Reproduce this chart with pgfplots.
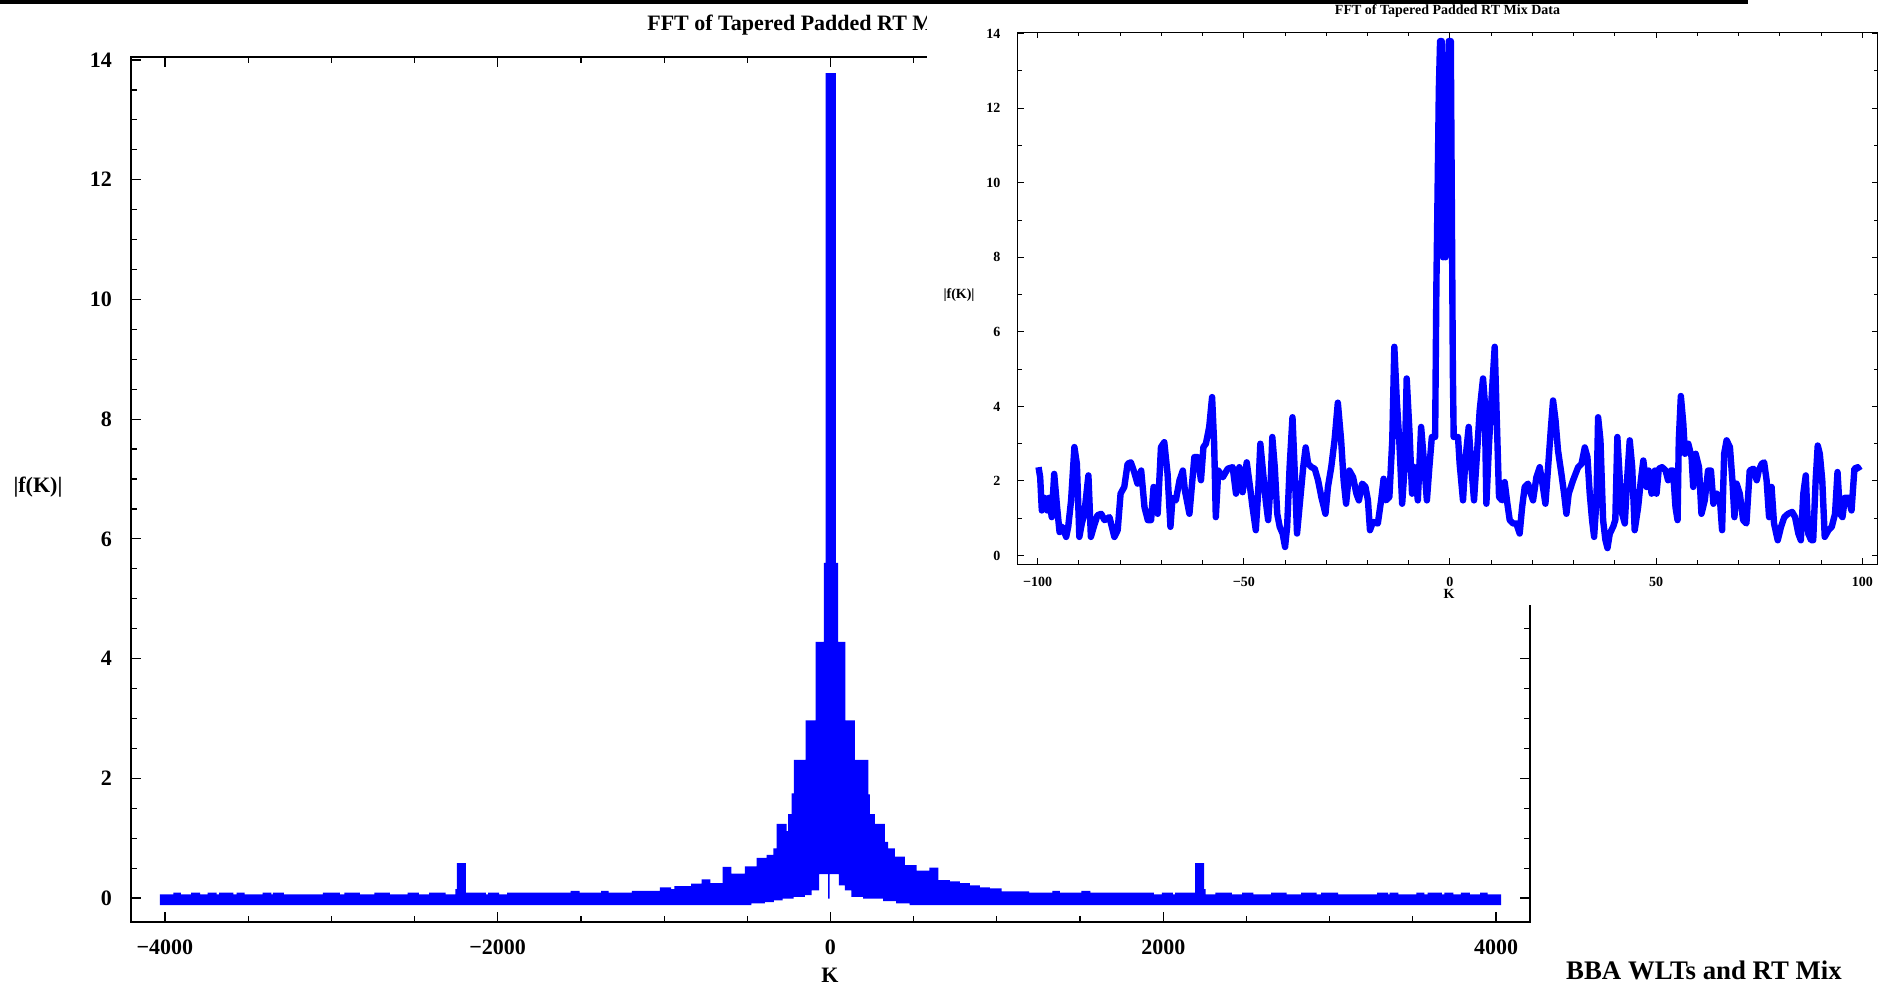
\documentclass[border=0pt]{standalone}
\usepackage{fontspec}
\setmainfont{Liberation Serif}
\usepackage{pgfplots}
\pgfplotsset{compat=1.18}
\definecolor{mblue}{RGB}{0,0,255}
\newcommand{\mainfont}{\fontsize{11}{13}\selectfont\bfseries}
\newcommand{\insfont}{\fontsize{7}{8}\selectfont\bfseries}
\begin{document}
\begin{tikzpicture}[x=1pt,y=1pt]
\useasboundingbox (0,0) rectangle (943.5,492.5);
\begin{axis}[
  at={(65.5pt,31.5pt)}, anchor=south west, scale only axis,
  width=699.5pt, height=432.5pt,
  xmin=-4204, xmax=4204, ymin=-0.40, ymax=14.05,
  axis line style={line width=1pt},
  xtick={-4000,-2000,0,2000,4000},
  xticklabels={−4000,−2000,0,2000,4000},
  minor x tick num=3,
  ytick={0,2,4,6,8,10,12,14},
  yticklabels={0,2,4,6,8,10,12,14},
  minor y tick num=3,
  tick align=inside,
  major tick length=5pt, minor tick length=3pt,
  tick style={black, line width=0.6pt},
  ticklabel style={font=\mainfont},
  xticklabel style={yshift=-5.5pt},
  yticklabel style={xshift=-6pt},
  title={FFT of Tapered Padded RT M},
  every axis title/.style={at={(0.3688,1.037)}, anchor=west, inner sep=0pt, font=\mainfont},
  xlabel={K}, ylabel={|f(K)|},
  every axis x label/.style={at={(0.4996,-0.0613)}, anchor=center, font=\mainfont},
  every axis y label/.style={at={(-0.0665,0.503)}, anchor=center, font=\mainfont},
]
\addplot[fill=mblue, draw=none] coordinates {
(-4030,-0.12)
(-4030,0.06)(-3950,0.06)
(-3950,0.09)(-3904,0.09)
(-3904,0.06)(-3842,0.06)
(-3842,0.09)(-3789,0.09)
(-3789,0.06)(-3743,0.06)
(-3743,0.09)(-3690,0.09)
(-3690,0.06)(-3674,0.06)
(-3674,0.09)(-3588,0.09)
(-3588,0.06)(-3569,0.06)
(-3569,0.09)(-3521,0.09)
(-3521,0.06)(-3413,0.06)
(-3413,0.09)(-3360,0.09)
(-3360,0.06)(-3352,0.06)
(-3352,0.09)(-3285,0.09)
(-3285,0.06)(-3051,0.06)
(-3051,0.09)(-2949,0.09)
(-2949,0.06)(-2922,0.06)
(-2922,0.09)(-2828,0.09)
(-2828,0.06)(-2742,0.06)
(-2742,0.09)(-2648,0.09)
(-2648,0.06)(-2541,0.06)
(-2541,0.09)(-2474,0.09)
(-2474,0.06)(-2412,0.06)
(-2412,0.09)(-2313,0.09)
(-2313,0.06)(-2254,0.06)
(-2254,0.15)(-2246,0.15)
(-2246,0.585)(-2192,0.585)
(-2192,0.09)(-2071,0.09)
(-2071,0.06)(-2058,0.06)
(-2058,0.09)(-1991,0.09)
(-1991,0.06)(-1943,0.06)
(-1943,0.09)(-1562,0.09)
(-1562,0.12)(-1508,0.12)
(-1508,0.09)(-1379,0.09)
(-1379,0.12)(-1334,0.12)
(-1334,0.09)(-1194,0.09)
(-1194,0.12)(-1025,0.12)
(-1025,0.18)(-958,0.18)
(-958,0.15)(-939,0.15)
(-939,0.20)(-837,0.20)
(-837,0.24)(-775,0.24)
(-775,0.31)(-722,0.31)
(-722,0.25)(-649,0.25)
(-649,0.52)(-595,0.52)
(-595,0.41)(-514,0.41)
(-514,0.53)(-444,0.53)
(-444,0.67)(-384,0.67)
(-384,0.72)(-344,0.72)
(-344,0.83)(-324,0.83)
(-324,1.24)(-264,1.24)
(-264,1.12)(-254,1.12)
(-254,1.40)(-234,1.40)
(-234,1.75)(-220,1.75)
(-220,2.31)(-150,2.31)
(-150,2.97)(-90,2.97)
(-90,4.28)(-40,4.28)
(-40,5.60)(-30,5.60)
(-30,13.78)(32,13.78)
(32,5.60)(46,5.60)
(46,4.28)(90,4.28)
(90,2.97)(146,2.97)
(146,2.31)(227,2.31)
(227,1.73)(237,1.73)
(237,1.40)(267,1.40)
(267,1.24)(327,1.24)
(327,0.94)(347,0.94)
(347,0.83)(387,0.83)
(387,0.69)(447,0.69)
(447,0.55)(518,0.55)
(518,0.46)(594,0.46)
(594,0.51)(648,0.51)
(648,0.30)(718,0.30)
(718,0.28)(778,0.28)
(778,0.25)(838,0.25)
(838,0.21)(898,0.21)
(898,0.18)(958,0.18)
(958,0.16)(1028,0.16)
(1028,0.11)(1194,0.11)
(1194,0.09)(1334,0.09)
(1334,0.12)(1379,0.12)
(1379,0.09)(1508,0.09)
(1508,0.12)(1562,0.12)
(1562,0.09)(1943,0.09)
(1943,0.06)(1991,0.06)
(1991,0.09)(2058,0.09)
(2058,0.06)(2071,0.06)
(2071,0.09)(2192,0.09)
(2192,0.585)(2246,0.585)
(2246,0.15)(2254,0.15)
(2254,0.06)(2313,0.06)
(2313,0.09)(2412,0.09)
(2412,0.06)(2474,0.06)
(2474,0.09)(2541,0.09)
(2541,0.06)(2648,0.06)
(2648,0.09)(2742,0.09)
(2742,0.06)(2828,0.06)
(2828,0.09)(2922,0.09)
(2922,0.06)(2949,0.06)
(2949,0.09)(3051,0.09)
(3051,0.06)(3285,0.06)
(3285,0.09)(3352,0.09)
(3352,0.06)(3360,0.06)
(3360,0.09)(3413,0.09)
(3413,0.06)(3521,0.06)
(3521,0.09)(3569,0.09)
(3569,0.06)(3588,0.06)
(3588,0.09)(3674,0.09)
(3674,0.06)(3690,0.06)
(3690,0.09)(3743,0.09)
(3743,0.06)(3789,0.06)
(3789,0.09)(3842,0.09)
(3842,0.06)(3904,0.06)
(3904,0.09)(3950,0.09)
(3950,0.06)(4030,0.06)
(4030,-0.12)(475,-0.12)
(475,-0.09)(395,-0.09)
(395,-0.05)(316,-0.05)
(316,-0.01)(196,-0.01)
(196,0.02)(126,0.02)
(126,0.13)(86,0.13)
(86,0.21)(50,0.21)
(50,0.40)(-5,0.40)
(-5,-0.01)(-14,-0.01)
(-14,0.40)(-68,0.40)
(-68,0.13)(-114,0.13)
(-114,0.05)(-154,0.05)
(-154,0.02)(-221,0.02)
(-221,-0.01)(-288,-0.01)
(-288,-0.04)(-341,-0.04)
(-341,-0.07)(-395,-0.07)
(-395,-0.09)(-475,-0.09)
(-475,-0.12)(-4030,-0.12)
} -- cycle;
\end{axis}
\fill[white] (463.5,190) rectangle (943.5,489.5);
\fill[black] (0,490.5) rectangle (874,492.5);
\begin{axis}[
  at={(508.75pt,210.25pt)}, anchor=south west, scale only axis,
  width=430pt, height=266pt,
  xmin=-104.9, xmax=103.7, ymin=-0.24, ymax=14.03,
  axis line style={line width=0.8pt},
  xtick={-100,-50,0,50,100},
  xticklabels={−100,−50,0,50,100},
  minor x tick num=4,
  ytick={0,2,4,6,8,10,12,14},
  yticklabels={0,2,4,6,8,10,12,14},
  minor y tick num=1,
  tick align=inside,
  major tick length=3pt, minor tick length=2pt,
  tick style={black, line width=0.5pt},
  ticklabel style={font=\insfont},
  xticklabel style={yshift=-2.7pt},
  yticklabel style={xshift=-5pt},
  title={FFT of Tapered Padded RT Mix Data},
  every axis title/.style={at={(0.5,1.0404)}, anchor=center, font=\insfont},
  xlabel={K}, ylabel={|f(K)|},
  every axis x label/.style={at={(0.5017,-0.0555)}, anchor=center, font=\insfont},
  every axis y label/.style={at={(-0.068,0.5066)}, anchor=center, font=\insfont},
]
\addplot[mblue, line width=3.2pt, line join=round] table {
x y
-99.8 2.37
-99.4 2.1
-99.0 1.21
-98.4 1.55
-97.7 1.21
-97.2 1.55
-96.6 1.03
-96.0 2.19
-95.3 1.30
-94.7 0.63
-94.0 0.77
-93.1 0.5
-92.6 0.77
-91.9 1.48
-91.1 2.91
-90.5 2.46
-89.9 0.5
-89.3 0.86
-88.7 1.12
-87.7 2.15
-87.1 0.5
-86.4 0.77
-85.5 1.08
-84.6 1.12
-83.8 0.95
-82.6 1.03
-81.4 0.5
-80.6 0.68
-79.9 1.66
-79.0 1.84
-78.2 2.46
-77.4 2.5
-76.6 2.24
-75.8 1.93
-74.9 2.28
-74.1 1.30
-73.3 0.95
-72.5 0.95
-71.9 1.84
-70.9 1.12
-70.1 2.91
-69.3 3.04
-68.5 2.19
-67.8 0.77
-67.3 1.55
-66.5 1.48
-65.6 2.02
-64.8 2.28
-64.3 1.75
-63.2 1.12
-62.7 1.75
-62.0 2.64
-61.2 2.64
-60.4 2.02
-59.8 2.91
-59.2 3.0
-58.4 3.45
-57.7 4.25
-57.2 3.0
-56.8 1.03
-56.2 2.28
-55.1 2.1
-53.9 2.33
-52.7 2.37
-51.9 1.66
-51.1 2.37
-50.3 1.7
-49.3 2.5
-48.5 1.84
-47.9 1.30
-47.1 0.68
-46.5 1.75
-46.0 3.0
-45.3 2.19
-44.7 1.48
-44.1 0.95
-43.5 1.93
-43.1 3.18
-42.5 2.37
-41.9 1.12
-41.3 0.77
-40.6 0.59
-40.0 0.23
-39.5 0.77
-38.9 2.37
-38.2 3.71
-37.7 2.37
-37.1 0.59
-36.5 1.30
-35.6 2.37
-35.0 2.9
-34.4 2.46
-33.6 2.37
-32.8 2.33
-32.0 2.02
-31.2 1.57
-30.2 1.12
-29.6 1.84
-28.8 2.37
-28.0 3.09
-27.2 4.1
-26.4 3.09
-25.8 2.02
-25.2 1.39
-24.4 2.28
-23.5 2.1
-22.7 1.66
-22.1 1.48
-21.3 1.93
-20.5 1.84
-19.9 1.48
-19.4 0.68
-18.7 0.9
-17.5 0.86
-16.7 1.48
-16.1 2.06
-15.5 1.48
-14.7 1.57
-14.0 3.09
-13.5 5.6
-12.9 4.16
-12.3 3.09
-11.6 1.39
-11.0 2.37
-10.5 4.75
-9.8 3.27
-9.2 1.66
-8.6 2.37
-7.8 1.48
-7.0 3.45
-6.2 2.37
-5.6 1.48
-5.0 2.37
-4.4 3.18
-3.6 3.18
-3.3 7.2
-3.0 9.8
-2.7 12.5
-2.4 13.8
-2.0 13.8
-1.7 8.0
-1.4 12.9
-1.1 8.0
-0.6 12.0
-0.3 13.8
0.2 13.8
0.5 8.5
0.7 4.93
0.9 3.18
1.95 3.18
2.35 2.46
3.16 1.48
3.73 2.55
4.54 3.45
5.19 2.37
5.83 1.48
6.4 2.46
7.21 3.9
8.02 4.75
8.42 4.16
8.83 1.39
9.47 3.0
10.2 4.43
10.85 5.6
11.5 3.09
11.9 1.57
12.63 1.48
13.27 1.97
13.92 1.39
14.49 0.95
15.3 0.86
16.1 0.86
16.9 0.59
17.5 1.30
18.13 1.84
18.94 1.93
19.59 1.66
20.15 1.48
20.96 2.1
21.77 2.37
22.3 2.02
23.15 1.39
23.8 2.37
24.44 3.36
25.0 4.16
25.6 3.63
26.2 2.82
27.03 2.19
27.68 1.66
28.24 1.12
28.8 1.66
29.86 2.02
31.08 2.37
31.9 2.46
32.7 2.9
33.34 2.64
33.9 1.66
34.47 0.95
34.96 0.5
35.53 1.48
35.93 3.71
36.5 3.09
37.14 0.95
37.7 0.42
38.2 0.2
38.76 0.59
39.57 0.77
40.1 0.95
40.6 3.18
41.2 2.02
41.76 1.12
42.4 0.86
43.05 2.19
43.6 3.09
44.2 2.37
44.8 0.68
45.64 1.30
46.3 2.02
46.9 2.55
47.66 1.84
48.2 2.28
48.9 1.66
49.7 2.28
50.1 1.66
50.65 2.33
51.46 2.37
52.3 2.28
52.9 2.02
53.6 2.28
54.1 2.28
54.7 1.30
55.2 0.95
55.5 3.09
56.0 4.28
56.6 3.53
57.0 2.73
57.8 3.0
58.6 2.64
59.0 1.84
59.6 2.73
60.4 2.37
61.0 1.12
61.8 1.48
62.6 2.28
63.3 2.28
63.9 1.39
64.7 1.66
65.5 1.48
66.0 0.68
66.5 2.73
67.1 3.09
67.9 2.91
68.5 2.02
69.0 1.03
69.5 1.93
70.3 1.66
71.1 0.95
71.9 0.86
72.7 2.28
73.6 2.33
74.4 2.02
74.9 2.28
75.6 2.46
76.2 2.5
76.8 2.02
77.4 1.03
78.0 1.84
78.6 0.86
79.5 0.41
80.3 0.77
81.1 1.03
82.0 1.12
83.0 1.17
83.7 1.03
84.5 0.59
85.1 0.41
85.7 1.66
86.3 2.15
86.9 0.59
87.6 0.41
88.1 0.41
88.7 2.02
89.2 2.95
89.7 2.73
90.3 2.02
90.9 0.5
91.8 0.68
92.6 0.77
93.4 1.12
94.0 2.24
94.6 1.12
95.2 1.03
95.8 1.55
96.6 1.55
97.4 1.21
98.1 2.33
98.9 2.37
99.4 2.28
};
\end{axis}
\node[font=\fontsize{13.4}{15}\selectfont\bfseries] at (852,7.5) {BBA WLTs and RT Mix};
\end{tikzpicture}
\end{document}
